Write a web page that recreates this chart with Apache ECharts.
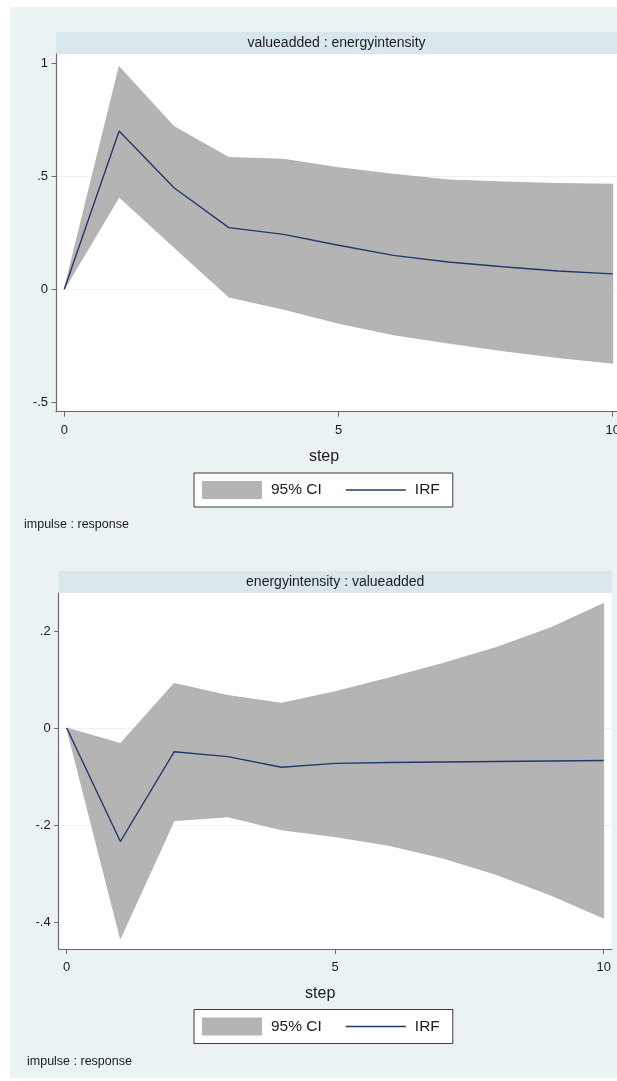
<!DOCTYPE html>
<html>
<head>
<meta charset="utf-8">
<script src="https://cdn.jsdelivr.net/npm/echarts@6/dist/echarts.min.js"></script>
<style>
html,body{margin:0;padding:0;background:#fff;}
#chart{width:617px;height:1081px;}
</style>
</head>
<body>
<div id="chart"></div>
<script>
// ---- data ----
const steps = [0, 1, 2, 3, 4, 5, 6, 7, 8, 9, 10];
const panelTitles = ['valueadded : energyintensity', 'energyintensity : valueadded'];
const legendNames = ['95% CI', 'IRF'];
const xAxisTitle = 'step';
const noteText = 'impulse : response';

// panel 1: valueadded : energyintensity
const irfTop   = [0, 0.700, 0.449, 0.273, 0.243, 0.195, 0.150, 0.121, 0.100, 0.081, 0.068];
const upperTop = [0, 0.985, 0.720, 0.583, 0.575, 0.538, 0.509, 0.484, 0.475, 0.468, 0.465];
const lowerTop = [0, 0.408, 0.186, -0.034, -0.088, -0.150, -0.201, -0.238, -0.272, -0.302, -0.327];

// panel 2: energyintensity : valueadded
const irfBottom   = [0, -0.234, -0.049, -0.059, -0.081, -0.073, -0.071, -0.070, -0.069, -0.068, -0.067];
const upperBottom = [0, -0.032, 0.092, 0.067, 0.051, 0.075, 0.103, 0.133, 0.166, 0.206, 0.257];
const lowerBottom = [0, -0.434, -0.191, -0.183, -0.210, -0.224, -0.242, -0.268, -0.302, -0.344, -0.392];

const xTicks = [0, 5, 10];
const yTicksTop = [-0.5, 0, 0.5, 1];
const yTicksBottom = [-0.4, -0.2, 0, 0.2];

// ---- style ----
const FONT = '"Liberation Sans", Arial, Helvetica, sans-serif';
const BG = '#eaf2f3';
const HEADER = '#d9e6eb';
const GRIDLINE = '#e9f1f3';
const AXIS = '#6b6b6b';
const TEXT = '#1c1c1c';
const BAND = '#b4b4b4';
const BAND_EDGE = '#ababab';
const NAVY = '#22396b';

function stataFmt(v) {
  const s = String(Math.round(v * 1000) / 1000);
  return s.replace(/^(-?)0\./, '$1.');
}

function pairs(xs, ys) { return xs.map((x, i) => [x, ys[i]]); }

function panelSeries(idx, lower, upper, irf) {
  return [
    {
      type: 'custom', name: legendNames[0], xAxisIndex: idx, yAxisIndex: idx,
      data: steps.map((s, i) => [s, lower[i], upper[i]]),
      encode: { x: 0, y: [1, 2] },
      silent: true, z: 2, clip: true,
      itemStyle: { color: BAND },
      renderItem: function (params, api) {
        if (params.dataIndex !== 0) return null;
        const pts = [];
        for (let i = 0; i < steps.length; i++) pts.push(api.coord([steps[i], upper[i]]));
        for (let i = steps.length - 1; i >= 0; i--) pts.push(api.coord([steps[i], lower[i]]));
        return {
          type: 'polygon',
          shape: { points: pts },
          style: { fill: BAND, stroke: BAND_EDGE, lineWidth: 0.8 }
        };
      }
    },
    {
      type: 'line', name: legendNames[1], xAxisIndex: idx, yAxisIndex: idx,
      data: pairs(steps, irf), symbol: 'none', silent: true, z: 3,
      itemStyle: { color: NAVY },
      lineStyle: { width: 1.4, color: NAVY },
      emphasis: { disabled: true }
    }
  ];
}

function xAxisCfg(idx, min, max) {
  return {
    type: 'value', gridIndex: idx, min: min, max: max,
    minInterval: 5, maxInterval: 5,
    axisLine: { show: true, onZero: false, lineStyle: { color: AXIS, width: 1.2 } },
    axisTick: { show: true, length: 5, customValues: xTicks, lineStyle: { color: AXIS, width: 1 } },
    axisLabel: { customValues: xTicks,
      fontSize: 13, fontFamily: FONT, color: TEXT, margin: 12, formatter: stataFmt },
    splitLine: { show: false },
    name: xAxisTitle, nameLocation: 'middle', nameGap: 37,
    nameTextStyle: { fontSize: 16, fontFamily: FONT, color: TEXT, padding: [0, idx === 0 ? 25 : 30, 0, 0] }
  };
}

function yAxisCfg(idx, min, max, ticks, step) {
  return {
    type: 'value', gridIndex: idx, min: min, max: max,
    minInterval: step, maxInterval: step,
    axisLine: { show: true, onZero: false, lineStyle: { color: AXIS, width: 1.2 } },
    axisTick: { show: true, length: 4.5, customValues: ticks, lineStyle: { color: AXIS, width: 1 } },
    axisLabel: { customValues: ticks,
      fontSize: 13, fontFamily: FONT, color: TEXT, margin: 8, formatter: stataFmt },
    splitLine: { show: true, showMinLine: false, showMaxLine: false,
      lineStyle: { color: GRIDLINE, width: 1.2 } }
  };
}

function legendCfg(left, top) {
  return {
    left: left, top: top, orient: 'horizontal',
    selectedMode: false,
    backgroundColor: '#ffffff', borderColor: '#3a3a3a', borderWidth: 1, borderRadius: 0,
    padding: [8, 13, 8, 8],
    itemWidth: 60, itemHeight: 18, itemGap: 24,
    textStyle: { fontSize: 15.5, fontFamily: FONT, color: TEXT, padding: [0, 0, 0, 4] },
    data: [
      { name: legendNames[0], icon: 'rect', itemStyle: { color: BAND, borderWidth: 0 } },
      { name: legendNames[1], icon: 'path://M0,0M60,18M0,8.3h60v1.5h-60z',
        itemStyle: { color: NAVY, borderWidth: 0 } }
    ]
  };
}

const chart = echarts.init(document.getElementById('chart'), null, { renderer: 'canvas' });

const option = {
  animation: false,
  backgroundColor: '#ffffff',
  textStyle: { fontFamily: FONT },
  grid: [
    { left: 56, top: 54, width: 561, height: 357.7, show: true, backgroundColor: '#ffffff',
      borderWidth: 0, containLabel: false, outerBoundsMode: 'none' },
    { left: 58.7, top: 593, width: 553, height: 356, show: true, backgroundColor: '#ffffff',
      borderWidth: 0, containLabel: false, outerBoundsMode: 'none' }
  ],
  xAxis: [
    xAxisCfg(0, -0.151, 10.078),
    xAxisCfg(1, -0.149, 10.149)
  ],
  yAxis: [
    yAxisCfg(0, -0.5416, 1.041, yTicksTop, 0.5),
    yAxisCfg(1, -0.4557, 0.2784, yTicksBottom, 0.2)
  ],
  legend: [
    legendCfg(194, 473),
    legendCfg(194, 1009.5)
  ],
  graphic: {
    elements: [
      { type: 'rect', silent: true, z: -100, shape: { x: 10, y: 7, width: 607, height: 1071 }, style: { fill: BG } },
      { type: 'rect', silent: true, z: -50, shape: { x: 56, y: 32, width: 561, height: 22 }, style: { fill: HEADER } },
      { type: 'rect', silent: true, z: -50, shape: { x: 58.7, y: 571, width: 553, height: 22 }, style: { fill: HEADER } },
      { type: 'text', silent: true, z: 10, x: 336.5, y: 43,
        style: { text: panelTitles[0], fill: TEXT, font: '14px ' + FONT, textAlign: 'center', textVerticalAlign: 'middle' } },
      { type: 'text', silent: true, z: 10, x: 335.2, y: 582,
        style: { text: panelTitles[1], fill: TEXT, font: '14px ' + FONT, textAlign: 'center', textVerticalAlign: 'middle' } },
      { type: 'text', silent: true, z: 10, x: 24, y: 525,
        style: { text: noteText, fill: TEXT, font: '12.5px ' + FONT, textAlign: 'left', textVerticalAlign: 'middle' } },
      { type: 'text', silent: true, z: 10, x: 27, y: 1061.5,
        style: { text: noteText, fill: TEXT, font: '12.5px ' + FONT, textAlign: 'left', textVerticalAlign: 'middle' } }
    ]
  },
  series: [].concat(
    panelSeries(0, lowerTop, upperTop, irfTop),
    panelSeries(1, lowerBottom, upperBottom, irfBottom)
  )
};

chart.setOption(option);
</script>
</body>
</html>
